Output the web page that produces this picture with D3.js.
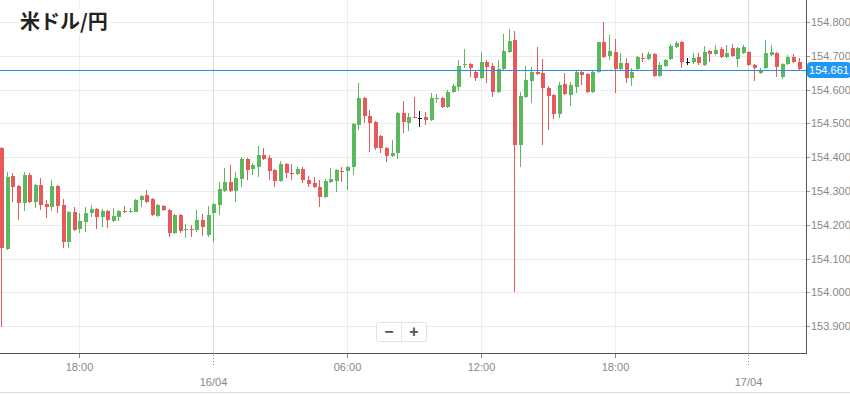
<!DOCTYPE html>
<html><head><meta charset="utf-8">
<script src="https://cdn.jsdelivr.net/npm/d3@7"></script>
<style>body{margin:0;background:#fff}svg{display:block}</style>
</head><body>
<svg id="c" width="850" height="394"></svg>
<script>
const title = "米ドル/円";
const startTime = new Date(2024, 3, 15, 14, 30);
const intervalMinutes = 15;
const open = [154.427,154.128,154.344,154.315,154.264,154.347,154.267,154.318,154.261,154.253,154.315,154.258,154.149,154.238,154.187,154.208,154.235,154.247,154.223,154.241,154.211,154.223,154.242,154.238,154.238,154.273,154.288,154.276,154.226,154.255,154.244,154.176,154.229,154.185,154.187,154.185,154.214,154.170,154.235,154.258,154.300,154.327,154.300,154.335,154.395,154.365,154.371,154.406,154.398,154.362,154.329,154.380,154.353,154.350,154.365,154.332,154.324,154.312,154.282,154.327,154.329,154.359,154.359,154.371,154.495,154.575,154.522,154.504,154.463,154.427,154.403,154.412,154.531,154.501,154.519,154.516,154.519,154.510,154.572,154.575,154.548,154.593,154.608,154.673,154.676,154.652,154.634,154.682,154.670,154.593,154.661,154.711,154.747,154.436,154.578,154.625,154.652,154.649,154.605,154.584,154.528,154.616,154.584,154.608,154.652,154.646,154.593,154.652,154.741,154.699,154.711,154.661,154.679,154.634,154.661,154.693,154.690,154.705,154.640,154.670,154.690,154.726,154.741,154.682,154.682,154.696,154.673,154.714,154.705,154.720,154.696,154.723,154.690,154.708,154.711,154.673,154.649,154.664,154.702,154.708,154.637,154.676,154.696,154.682];
const high = [154.430,154.356,154.353,154.318,154.356,154.353,154.321,154.338,154.273,154.332,154.318,154.276,154.241,154.253,154.235,154.253,154.258,154.250,154.247,154.244,154.250,154.244,154.255,154.250,154.276,154.288,154.303,154.279,154.261,154.258,154.247,154.232,154.232,154.202,154.199,154.244,154.232,154.255,154.264,154.327,154.368,154.377,154.356,154.400,154.398,154.383,154.433,154.427,154.406,154.365,154.389,154.383,154.380,154.371,154.371,154.344,154.341,154.332,154.335,154.368,154.365,154.371,154.374,154.501,154.619,154.578,154.540,154.507,154.466,154.430,154.451,154.534,154.566,154.531,154.578,154.537,154.534,154.590,154.587,154.578,154.599,154.616,154.688,154.720,154.679,154.655,154.711,154.688,154.679,154.688,154.764,154.779,154.773,154.593,154.670,154.667,154.726,154.690,154.611,154.587,154.622,154.649,154.622,154.658,154.655,154.649,154.655,154.741,154.800,154.761,154.750,154.708,154.693,154.664,154.699,154.708,154.711,154.708,154.682,154.690,154.735,154.744,154.744,154.693,154.708,154.708,154.729,154.717,154.732,154.726,154.732,154.735,154.726,154.732,154.714,154.676,154.664,154.747,154.732,154.711,154.679,154.702,154.705,154.693];
const low = [153.898,154.125,154.267,154.214,154.241,154.264,154.250,154.244,154.220,154.241,154.235,154.131,154.131,154.182,154.176,154.179,154.223,154.187,154.193,154.190,154.208,154.211,154.235,154.235,154.238,154.253,154.264,154.226,154.223,154.241,154.164,154.173,154.176,154.161,154.164,154.179,154.167,154.164,154.149,154.229,154.297,154.297,154.267,154.312,154.332,154.347,154.341,154.392,154.332,154.312,154.327,154.338,154.332,154.347,154.324,154.312,154.309,154.253,154.279,154.324,154.297,154.327,154.303,154.347,154.480,154.501,154.415,154.421,154.412,154.386,154.400,154.395,154.472,154.477,154.516,154.489,154.495,154.507,154.560,154.545,154.545,154.590,154.596,154.664,154.637,154.625,154.631,154.619,154.578,154.590,154.658,154.708,154.001,154.371,154.575,154.560,154.643,154.436,154.480,154.513,154.516,154.584,154.551,154.590,154.613,154.590,154.590,154.649,154.693,154.688,154.590,154.658,154.619,154.611,154.658,154.682,154.688,154.637,154.637,154.667,154.688,154.723,154.664,154.673,154.676,154.673,154.670,154.682,154.702,154.693,154.693,154.696,154.667,154.705,154.670,154.625,154.646,154.661,154.699,154.637,154.631,154.673,154.679,154.658];
const close = [154.131,154.341,154.312,154.264,154.347,154.267,154.318,154.258,154.253,154.315,154.255,154.149,154.238,154.185,154.211,154.235,154.247,154.223,154.241,154.214,154.226,154.241,154.237,154.241,154.273,154.285,154.267,154.229,154.258,154.244,154.176,154.229,154.182,154.187,154.185,154.214,154.193,154.229,154.261,154.306,154.327,154.300,154.338,154.395,154.362,154.377,154.406,154.395,154.359,154.329,154.380,154.353,154.350,154.365,154.332,154.321,154.312,154.282,154.329,154.335,154.362,154.356,154.371,154.498,154.575,154.522,154.501,154.427,154.427,154.403,154.412,154.531,154.504,154.519,154.516,154.516,154.510,154.575,154.575,154.548,154.593,154.611,154.670,154.676,154.664,154.634,154.682,154.667,154.593,154.661,154.714,154.744,154.436,154.581,154.628,154.652,154.646,154.605,154.581,154.528,154.613,154.587,154.613,154.652,154.643,154.593,154.652,154.741,154.696,154.714,154.661,154.679,154.634,154.652,154.696,154.690,154.705,154.640,154.673,154.688,154.729,154.738,154.682,154.682,154.693,154.679,154.711,154.705,154.717,154.696,154.708,154.699,154.723,154.726,154.673,154.664,154.658,154.708,154.711,154.667,154.676,154.696,154.682,154.661];
const yTickValues = [153.9,154.0,154.1,154.2,154.3,154.4,154.5,154.6,154.7,154.8];
const timeTicks = [
  {t: new Date(2024,3,15,18,0), label: "18:00", day: false},
  {t: new Date(2024,3,16,0,0), label: "16/04", day: true},
  {t: new Date(2024,3,16,6,0), label: "06:00", day: false},
  {t: new Date(2024,3,16,12,0), label: "12:00", day: false},
  {t: new Date(2024,3,16,18,0), label: "18:00", day: false},
  {t: new Date(2024,3,17,0,0), label: "17/04", day: true}
];
const lastPrice = 154.661;

const candles = open.map((o,i)=>({
  t: new Date(startTime.getTime() + i*intervalMinutes*60000),
  o, h: high[i], l: low[i], c: close[i]
}));

const W = 850, H = 394;
const plotR = 806, plotB = 353;
const svg = d3.select("#c");
const x = d3.scaleTime()
  .domain([new Date(2024,3,15,14,26,30), new Date(2024,3,17,2,35,0)])
  .range([0, plotR]);
const y = d3.scaleLinear().domain([153.821, 154.865]).range([plotB, 0]);

// grid
const g = svg.append("g");
g.selectAll(".hg").data(yTickValues).join("line")
  .attr("x1",0).attr("x2",plotR)
  .attr("y1",d=>Math.round(y(d))+0.5).attr("y2",d=>Math.round(y(d))+0.5)
  .attr("stroke","#ececec");
g.selectAll(".vg").data(timeTicks).join("line")
  .attr("x1",d=>Math.round(x(d.t))+0.5).attr("x2",d=>Math.round(x(d.t))+0.5)
  .attr("y1",0).attr("y2",plotB)
  .attr("stroke",d=>d.day?"#dcdcdc":"#ececec");

// candles
const col = d => d.c > d.o ? "#5cb85c" : (d.c < d.o ? "#e85a5a" : "#111");
const cg = svg.append("g").attr("shape-rendering","crispEdges");
cg.selectAll(".wick").data(candles).join("line")
  .attr("x1",d=>Math.round(x(d.t))+0.5).attr("x2",d=>Math.round(x(d.t))+0.5)
  .attr("y1",d=>y(d.h)).attr("y2",d=>y(d.l))
  .attr("stroke",col).attr("stroke-width",1);
cg.selectAll(".body").data(candles).join("rect")
  .attr("x",d=>Math.round(x(d.t))-1.5)
  .attr("width",4)
  .attr("y",d=>y(Math.max(d.o,d.c)))
  .attr("height",d=>Math.max(1, Math.abs(y(d.o)-y(d.c))))
  .attr("fill",col);

// title
const tt = svg.append("g");
tt.append("rect").attr("x",17).attr("y",8).attr("width",92).attr("height",26).attr("fill","#fff");
tt.append("text").attr("x",20).attr("y",29).text(title)
  .attr("font-family","'Noto Sans CJK JP', 'Noto Sans', sans-serif")
  .attr("font-weight","bold").attr("font-size",20).attr("fill","#222");

// price line
svg.append("line").attr("x1",0).attr("x2",plotR)
  .attr("y1",Math.round(y(lastPrice))+1.5).attr("y2",Math.round(y(lastPrice))+1.5)
  .attr("stroke","#2a8ee8").attr("stroke-width",1);

// axes lines
svg.append("line").attr("x1",plotR+0.5).attr("x2",plotR+0.5).attr("y1",0).attr("y2",plotB)
  .attr("stroke","#555");
svg.append("line").attr("x1",0).attr("x2",plotR+1).attr("y1",plotB+0.5).attr("y2",plotB+0.5)
  .attr("stroke","#555");

const fontAx = "'Liberation Sans', Arial, sans-serif";
// y axis
const ya = svg.append("g");
ya.selectAll("line").data(yTickValues).join("line")
  .attr("x1",plotR+1).attr("x2",plotR+4)
  .attr("y1",d=>Math.round(y(d))+0.5).attr("y2",d=>Math.round(y(d))+0.5)
  .attr("stroke","#999");
ya.selectAll("text").data(yTickValues).join("text")
  .attr("x",plotR+5).attr("y",d=>y(d)+4)
  .text(d3.format(".3f"))
  .attr("font-family",fontAx).attr("font-size",11).attr("fill","#888");

// price label
const py = y(lastPrice) + 1;
svg.append("rect").attr("x",plotR+1).attr("y",py-8).attr("width",44).attr("height",16)
  .attr("rx",4).attr("fill","#2196f3");
svg.append("text").attr("x",plotR+23).attr("y",py+4).attr("text-anchor","middle")
  .text(d3.format(".3f")(lastPrice))
  .attr("font-family",fontAx).attr("font-size",11).attr("fill","#fff");

// x axis
const xa = svg.append("g");
timeTicks.forEach(d=>{
  const xx = Math.round(x(d.t))+0.5;
  if (d.day) {
    xa.append("line").attr("x1",xx).attr("x2",xx).attr("y1",plotB+2).attr("y2",plotB+12)
      .attr("stroke","#888").attr("stroke-dasharray","1,2");
    xa.append("text").attr("x",xx).attr("y",plotB+33).attr("text-anchor","middle").text(d.label)
      .attr("font-family",fontAx).attr("font-size",11).attr("fill","#888");
  } else {
    xa.append("line").attr("x1",xx).attr("x2",xx).attr("y1",plotB+1).attr("y2",plotB+5)
      .attr("stroke","#888");
    xa.append("text").attr("x",xx).attr("y",plotB+18).attr("text-anchor","middle").text(d.label)
      .attr("font-family",fontAx).attr("font-size",11).attr("fill","#888");
  }
});

// zoom buttons
const zb = svg.append("g");
zb.append("rect").attr("x",376.5).attr("y",322.5).attr("width",50).attr("height",19).attr("rx",2)
  .attr("fill","#fff").attr("stroke","#e2e2e2");
zb.append("line").attr("x1",401.5).attr("x2",401.5).attr("y1",323).attr("y2",341).attr("stroke","#e6e6e6");
zb.append("text").attr("x",389).attr("y",337).attr("text-anchor","middle").text("−")
  .attr("font-family",fontAx).attr("font-size",16).attr("font-weight","bold").attr("fill","#555");
zb.append("text").attr("x",414).attr("y",337).attr("text-anchor","middle").text("+")
  .attr("font-family",fontAx).attr("font-size",16).attr("font-weight","bold").attr("fill","#555");

// bottom border
svg.append("line").attr("x1",0).attr("x2",W).attr("y1",392.5).attr("y2",392.5).attr("stroke","#ddd");
</script>
</body></html>
